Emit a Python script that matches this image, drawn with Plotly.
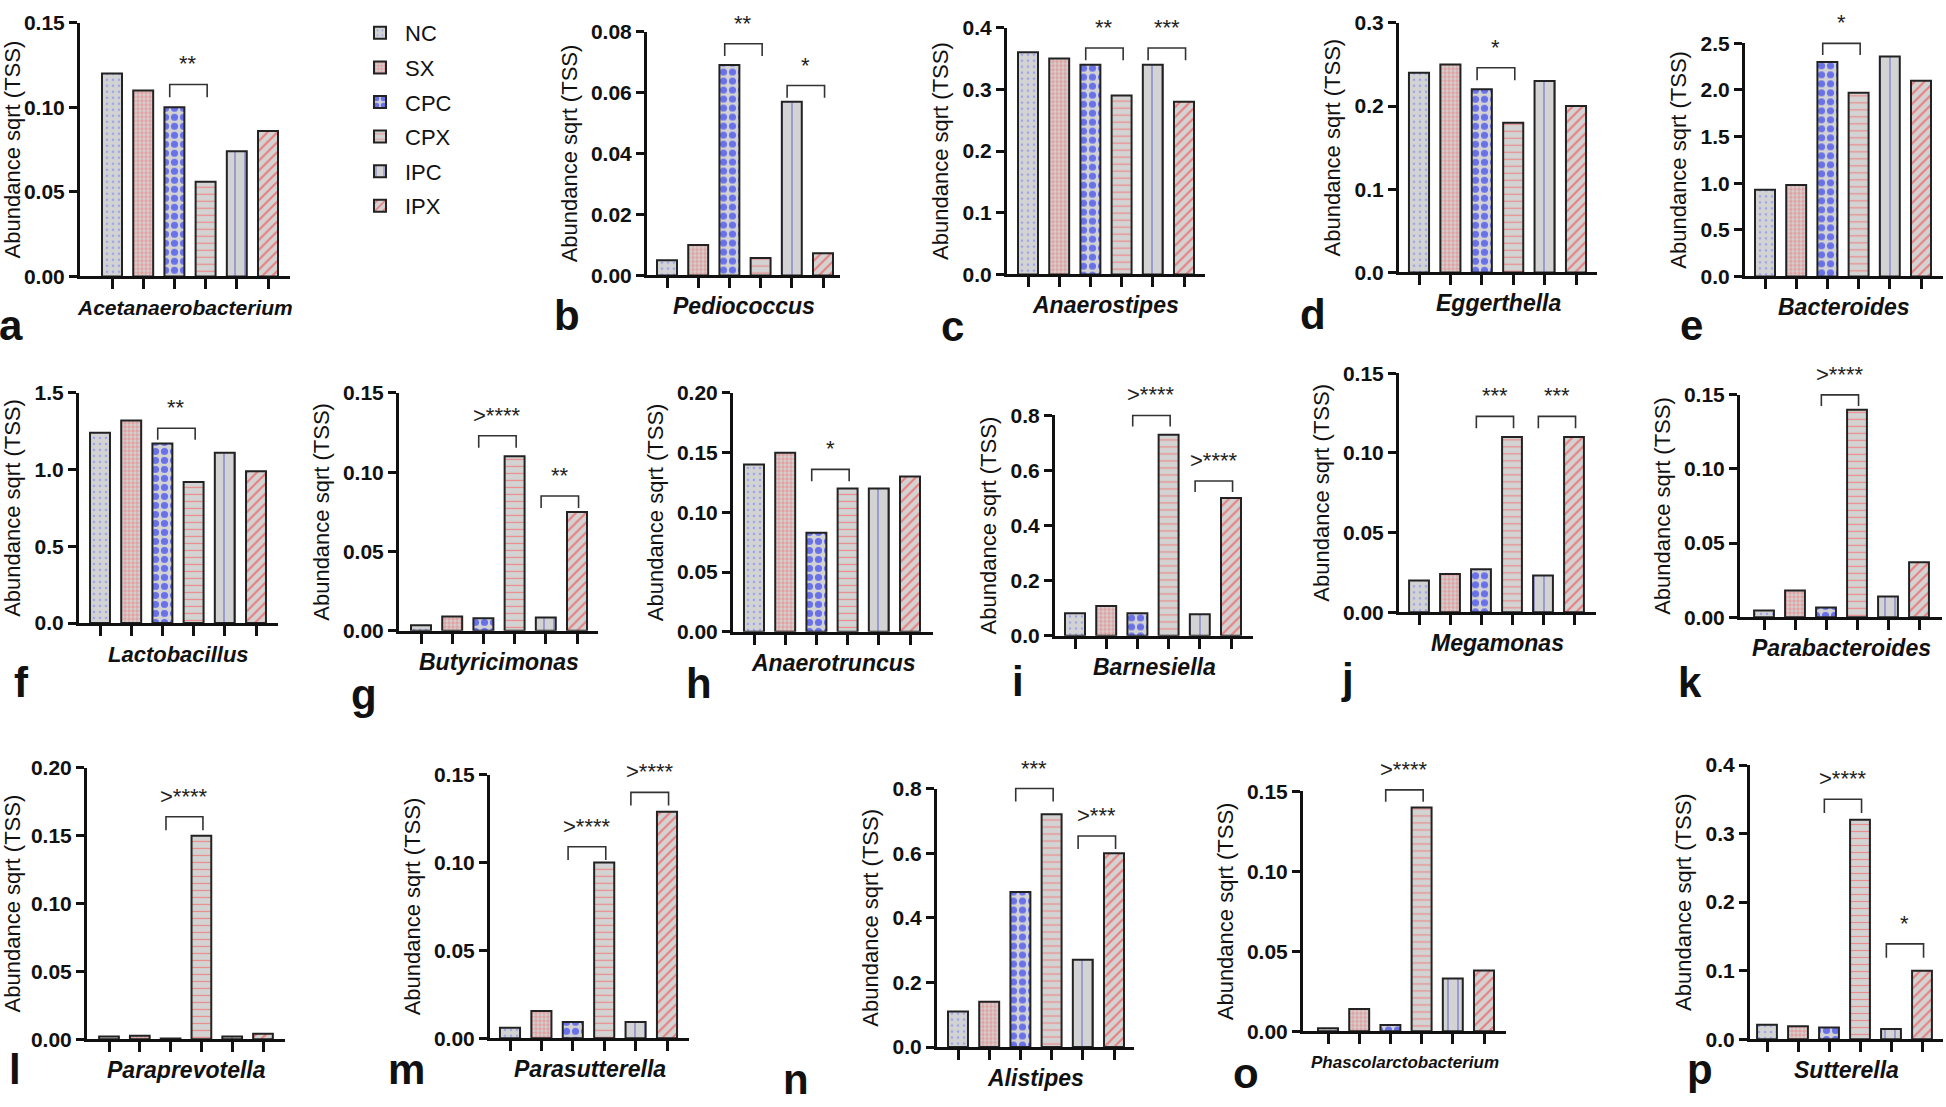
import plotly.graph_objects as go

W, H = 1946, 1107
FONT = "Arial, Liberation Sans, sans-serif"

groups = ["NC", "SX", "CPC", "CPX", "IPC", "IPX"]
genera = ["Acetanaerobacterium", "Pediococcus", "Anaerostipes", "Eggerthella", "Bacteroides",
          "Lactobacillus", "Butyricimonas", "Anaerotruncus", "Barnesiella", "Megamonas",
          "Parabacteroides", "Paraprevotella", "Parasutterella", "Alistipes",
          "Phascolarctobacterium", "Sutterella"]
letters = list("abcdefghijklmnop")

# abundance values per group (one entry per genus, panel order a..p)
NC  = [0.120, 0.0050, 0.36, 0.24, 0.93, 1.24, 0.0035, 0.140, 0.082, 0.020, 0.0045, 0.0020, 0.0060, 0.11, 0.002, 0.021]
SX  = [0.110, 0.0100, 0.35, 0.25, 0.98, 1.32, 0.0090, 0.150, 0.108, 0.024, 0.0180, 0.0025, 0.0155, 0.14, 0.014, 0.019]
CPC = [0.100, 0.0690, 0.34, 0.22, 2.30, 1.17, 0.0080, 0.083, 0.082, 0.027, 0.0065, 0.0005, 0.0093, 0.48, 0.004, 0.017]
CPX = [0.056, 0.0057, 0.29, 0.18, 1.97, 0.92, 0.1100, 0.120, 0.730, 0.110, 0.1400, 0.1500, 0.1000, 0.72, 0.140, 0.320]
IPC = [0.074, 0.0570, 0.34, 0.23, 2.36, 1.11, 0.0085, 0.120, 0.078, 0.023, 0.0140, 0.0020, 0.0093, 0.27, 0.033, 0.015]
IPX = [0.086, 0.0073, 0.28, 0.20, 2.10, 0.99, 0.0750, 0.130, 0.500, 0.110, 0.0370, 0.0040, 0.1290, 0.60, 0.038, 0.100]
series = [NC, SX, CPC, CPX, IPC, IPX]

# y-axis maximum and tick step per panel
y_max  = [0.15, 0.08, 0.4, 0.3, 2.5, 1.5, 0.15, 0.20, 0.8, 0.15, 0.15, 0.20, 0.15, 0.8, 0.15, 0.4]
y_step = [0.05, 0.02, 0.1, 0.1, 0.5, 0.5, 0.05, 0.05, 0.2, 0.05, 0.05, 0.05, 0.05, 0.2, 0.05, 0.1]
y_fmt  = [".2f", ".2f", ".1f", ".1f", ".1f", ".1f", ".2f", ".2f", ".1f", ".2f", ".2f", ".2f", ".2f", ".1f", ".2f", ".1f"]

# significance brackets: (panel, group i, group j, bracket height, label)
sig_panel  = [0, 1, 1, 2, 2, 3, 4, 5, 6, 6, 7, 8, 8, 9, 9, 10, 11, 12, 12, 13, 13, 14, 15, 15]
sig_i      = [2, 2, 4, 2, 4, 2, 2, 2, 2, 4, 2, 2, 4, 2, 4, 2, 2, 2, 4, 2, 4, 2, 2, 4]
sig_j      = [3, 3, 5, 3, 5, 3, 3, 3, 3, 5, 3, 3, 5, 3, 5, 3, 3, 3, 5, 3, 5, 3, 3, 5]
sig_height = [0.1135, 0.076, 0.0623, 0.367, 0.367, 0.246, 2.50, 1.27, 0.123, 0.085, 0.136,
              0.80, 0.562, 0.123, 0.123, 0.150, 0.164, 0.109, 0.140, 0.80, 0.653, 0.151, 0.35, 0.139]
sig_label  = ["**", "**", "*", "**", "***", "*", "*", "**", ">****", "**", "*",
              ">****", ">****", "***", "***", ">****", ">****", ">****", ">****", "***", ">***", ">****", ">****", "*"]

# ---- layout geometry (pixels) ----
# y-axis x, first bar center, last bar center, x-axis end, top-tick y, zero y
geo = [
    (80, 112, 268, 290, 11, 270), (647, 667, 823, 840, 20, 269), (1007, 1028, 1184, 1205, 16, 268),
    (1399, 1419, 1576, 1597, 11, 266), (1745, 1765, 1921, 1943, 32, 270),
    (79, 100, 256, 278, 389, 624), (399, 421, 577, 598, 389, 632), (733, 754, 910, 933, 389, 633),
    (1055, 1075, 1231, 1253, 412, 637), (1399, 1419, 1574, 1596, 369, 613), (1740, 1764, 1919, 1942, 391, 618),
    (87, 109, 263, 285, 772, 1049), (490, 510, 667, 689, 779, 1048), (937, 958, 1114, 1134, 793, 1057),
    (1303, 1328, 1484, 1506, 796, 1041), (1750, 1767, 1922, 1943, 769, 1049),
]
letter_pos = [(11, 320), (567, 310), (952, 321), (1313, 309), (1691, 320),
              (21, 685), (364, 697), (699, 686), (1018, 684), (1347, 681), (1690, 685),
              (15, 1080), (406, 1080), (796, 1090), (1246, 1084), (1700, 1080)]
label_size = [21, 23, 23, 23, 23, 22, 23, 23, 23, 23, 23, 23, 23, 23, 17, 23]

BG = "#d3d3d3"
patterns = {
    "NC":  dict(shape=".", fgcolor="#6a78ff", bgcolor=BG, size=6, solidity=0.15),
    "SX":  dict(shape=".", fgcolor="#f07070", bgcolor=BG, size=4, solidity=0.6),
    "CPC": dict(shape=".", fgcolor="#0010ff", bgcolor=BG, size=9, solidity=0.5),
    "CPX": dict(shape="-", fgcolor="#ff4848", bgcolor=BG, size=7, solidity=0.18),
    "IPC": dict(shape="|", fgcolor="#1a1acc", bgcolor=BG, size=10, solidity=0.12),
    "IPX": dict(shape="/", fgcolor="#ff2a2a", bgcolor=BG, size=7, solidity=0.3),
}


def ax_id(k):
    return "" if k == 1 else str(k)


fig = go.Figure()
layout = {}
annotations = []

for p in range(16):
    ax0, b0, b5, ax1, ytop, y0 = geo[p]
    sp = (b5 - b0) / 5.0
    xr = [(ax0 - b0) / sp, (ax1 - b0) / sp]
    n = ax_id(p + 1)
    m = ax_id(p + 17)
    xa, ya = f"x{n}", f"y{n}"
    for g, name in enumerate(groups):
        fig.add_trace(go.Bar(
            x=[g], y=[series[g][p]], width=0.64, name=name,
            legendgroup=name, showlegend=(p == 0),
            marker=dict(color=BG, pattern=patterns[name], line=dict(color="#222222", width=2)),
            xaxis=xa, yaxis=ya, hoverinfo="skip"))
    layout[f"xaxis{n}"] = dict(
        domain=[ax0 / W, ax1 / W], range=xr, anchor=ya, showgrid=False, zeroline=False,
        showline=True, linewidth=3, linecolor="#111111", ticks="outside", ticklen=10,
        tickwidth=3, tickcolor="#111111", tickvals=list(range(6)), showticklabels=False,
        fixedrange=True)
    layout[f"yaxis{n}"] = dict(
        domain=[1 - y0 / H, 1 - ytop / H], range=[0, y_max[p]], anchor=xa,
        showgrid=False, zeroline=False, showline=True, linewidth=3, linecolor="#111111",
        ticks="outside", ticklen=8, tickwidth=3, tickcolor="#111111",
        tick0=0, dtick=y_step[p], tickformat=y_fmt[p],
        tickfont=dict(family=FONT, size=21, color="#111111", weight="bold"),
        title=dict(text="Abundance sqrt (TSS)", standoff=8,
                   font=dict(family=FONT, size=22, color="#111111")),
        fixedrange=True)
    # invisible overlay subplot with the same scale, extended upward for brackets
    ext = min(80, ytop - 1)
    top_val = y_max[p] * (y0 - ytop + ext) / (y0 - ytop)
    layout[f"xaxis{m}"] = dict(domain=[ax0 / W, ax1 / W], range=xr, anchor=f"y{m}",
                               visible=False, fixedrange=True)
    layout[f"yaxis{m}"] = dict(domain=[1 - y0 / H, 1 - (ytop - ext) / H], range=[0, top_val],
                               anchor=f"x{m}", visible=False, fixedrange=True)
    # genus label
    annotations.append(dict(text=f"<b><i>{genera[p]}</i></b>", xref=f"x{n} domain", yref=f"y{n} domain",
                            x=0.5, y=0, yshift=-31, xanchor="center", yanchor="middle", showarrow=False,
                            font=dict(family=FONT, size=label_size[p], color="#111111")))
    lx, ly = letter_pos[p]
    annotations.append(dict(text=f"<b>{letters[p]}</b>", xref="paper", yref="paper",
                            x=lx / W, y=1 - ly / H, xanchor="center", yanchor="middle", showarrow=False,
                            font=dict(family=FONT, size=42, color="#111111")))

for k in range(len(sig_panel)):
    p = sig_panel[k]
    m = ax_id(p + 17)
    h = sig_height[k]
    d = 0.05 * y_max[p]
    i, j = sig_i[k], sig_j[k]
    fig.add_trace(go.Scatter(
        x=[i - 0.15, i - 0.15, j + 0.05, j + 0.05], y=[h - d, h, h, h - d],
        mode="lines", line=dict(color="#333333", width=1.6), showlegend=False,
        hoverinfo="skip", xaxis=f"x{m}", yaxis=f"y{m}", cliponaxis=False))
    annotations.append(dict(text=sig_label[k], xref=f"x{m}", yref=f"y{m}",
                            x=(i - 0.15 + j + 0.05) / 2, y=h, yshift=6,
                            xanchor="center", yanchor="bottom", showarrow=False,
                            font=dict(family=FONT, size=22, color="#222222")))

fig.update_layout(
    width=W, height=H, margin=dict(l=0, r=0, t=0, b=0),
    paper_bgcolor="white", plot_bgcolor="rgba(0,0,0,0)", barmode="overlay",
    font=dict(family=FONT, color="#111111"),
    showlegend=True,
    legend=dict(x=355 / W, y=1.0, xanchor="left", yanchor="top",
                font=dict(family=FONT, size=22, color="#111111"),
                tracegroupgap=3, bgcolor="rgba(0,0,0,0)", itemwidth=40),
    annotations=annotations,
    **layout,
)

fig.write_html("out.html", config={"displayModeBar": False},
               post_script="document.body.style.margin='0';")
